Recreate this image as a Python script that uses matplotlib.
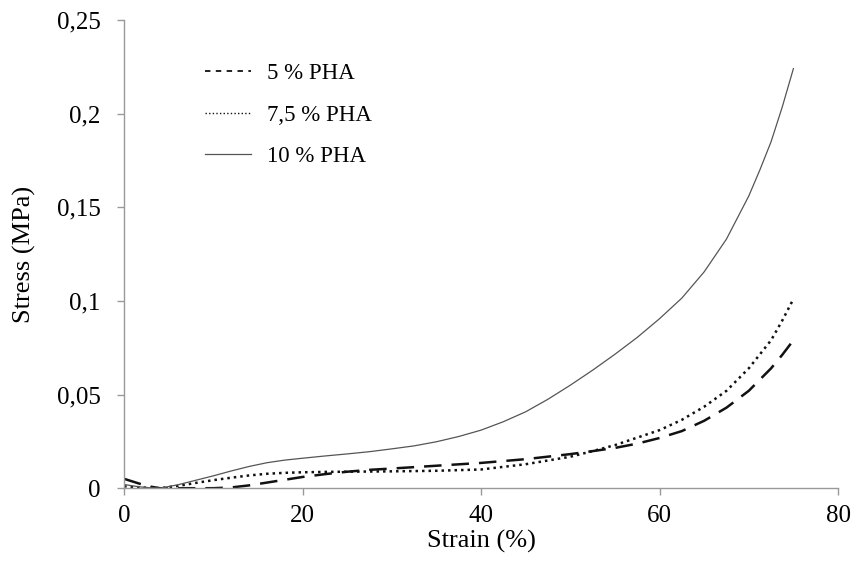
import matplotlib

matplotlib.use("Agg")
import matplotlib.pyplot as plt
from matplotlib.ticker import FuncFormatter

plt.rcParams["font.family"] = ["Liberation Serif", "DejaVu Serif"]

# strain (%) values
strain_5 = [0, 1, 2, 3, 4, 6, 8, 10, 12, 14, 16, 18, 20, 22.5, 25, 27.5, 30, 35, 40, 45, 50,
            52.5, 55, 57.5, 60, 62.5, 65, 67.5, 70, 72.5, 73.75, 75]
stress_5 = [0.005, 0.0035, 0.002, 0.0008, 0.0, 0.0, 0.0, 0.0, 0.0004, 0.0015, 0.003, 0.0045,
            0.006, 0.0075, 0.0088, 0.0098, 0.0105, 0.012, 0.0135, 0.0155, 0.0182,
            0.0198, 0.0215, 0.0238, 0.0268, 0.0305, 0.036, 0.043, 0.052, 0.064, 0.0712, 0.079]

strain_75 = [0, 1, 2, 3, 4, 6, 8, 10, 12, 14, 16, 18, 20, 22.5, 25, 27.5, 30, 35, 40, 45, 50,
             52.5, 55, 57.5, 60, 62.5, 65, 67.5, 70, 72.5, 73.75, 75]
stress_75 = [0.001, 0.0007, 0.0004, 0.0001, 0.0, 0.0012, 0.0028, 0.0043, 0.0056, 0.0068,
             0.0077, 0.0082, 0.0085, 0.0087, 0.0088, 0.0089, 0.009, 0.0093, 0.0100, 0.0128,
             0.0168, 0.0198, 0.023, 0.027, 0.031, 0.0365, 0.0435, 0.052, 0.064, 0.079,
             0.0895, 0.101]

strain_10 = [0, 1, 2, 3, 4, 6, 8, 10, 12, 14, 16, 18, 20, 22.5, 25, 27.5, 30, 32.5, 35, 37.5,
             40, 42.5, 45, 47.5, 50, 52.5, 55, 57.5, 60, 62.5, 65, 67.5, 70, 71.25, 72.5,
             73.75, 75]
stress_10 = [0.002, 0.0012, 0.0006, 0.0002, 0.0, 0.0018, 0.0042, 0.0066, 0.0092, 0.0116,
             0.0136, 0.015, 0.016, 0.0172, 0.0183, 0.0195, 0.021, 0.0226, 0.0248, 0.0276,
             0.031, 0.0355, 0.0408, 0.0475, 0.055, 0.063, 0.0715, 0.0805, 0.0905, 0.1015,
             0.1155, 0.133, 0.156, 0.170, 0.185, 0.2035, 0.224]

x_ticks = [0, 20, 40, 60, 80]
y_ticks = [0, 0.05, 0.1, 0.15, 0.2, 0.25]


def comma_fmt(value, _pos):
    text = f"{value:.2f}".rstrip("0").rstrip(".")
    return text.replace(".", ",")


def main() -> None:
    fig = plt.figure(figsize=(8.56, 5.69), dpi=100)
    ax = fig.add_axes([0.145, 0.142, 0.834, 0.823])

    ax.plot(strain_5, stress_5, color="#111111", linewidth=1.8, dashes=(7, 4),
            label="5 % PHA")
    ax.plot(strain_75, stress_75, color="#111111", linewidth=1.8, linestyle=(0, (1, 1.6)),
            label="7,5 % PHA")
    ax.plot(strain_10, stress_10, color="#555555", linewidth=0.9, label="10 % PHA")

    ax.set_xlim(0, 80)
    ax.set_ylim(0, 0.25)
    ax.set_xticks(x_ticks)
    ax.set_yticks(y_ticks)
    ax.yaxis.set_major_formatter(FuncFormatter(comma_fmt))

    for side in ("top", "right"):
        ax.spines[side].set_visible(False)
    for side in ("left", "bottom"):
        ax.spines[side].set_color("#999999")
        ax.spines[side].set_linewidth(1.0)
    ax.tick_params(axis="both", colors="#999999", labelcolor="black", labelsize=18,
                   length=5, width=1.0, direction="out")
    ax.tick_params(axis="y", pad=12)
    ax.tick_params(axis="x", pad=7)

    ax.set_xlabel("Strain (%)", fontsize=19, labelpad=2)
    ax.set_ylabel("Stress (MPa)", fontsize=19, labelpad=15)

    leg = ax.legend(loc="upper left", bbox_to_anchor=(0.113, 0.908), frameon=False,
                    fontsize=16.5, handlelength=2.0, labelspacing=0.9, handletextpad=0.7,
                    borderpad=0, borderaxespad=0)
    leg.get_lines()[0].set_dashes((3, 3))
    leg.get_lines()[0].set_linewidth(1.3)
    leg.get_lines()[1].set_linewidth(1.0)

    fig.savefig("out.png", dpi=100)
    print("Saved plot to: out.png")


if __name__ == "__main__":
    main()
